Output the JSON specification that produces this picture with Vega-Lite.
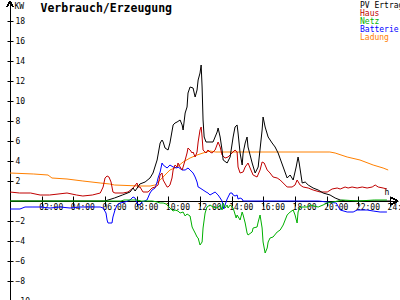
{
  "$schema": "https://vega.github.io/schema/vega-lite/v6.json",
  "width": 400,
  "height": 300,
  "autosize": "none",
  "padding": 0,
  "background": "white",
  "config": {
    "view": {"stroke": null},
    "font": "DejaVu Sans Mono",
    "axis": {"grid": false, "labelFont": "DejaVu Sans Mono", "labelFontSize": 8, "labelColor": "black", "tickColor": "black", "domainColor": "black", "titleFont": "DejaVu Sans Mono", "titleFontSize": 8, "titleColor": "black", "titleFontWeight": "normal", "labelOverlap": false, "labelFlush": false, "labelBound": false}
  },
  "data": {"values": [
    {"s":"Ladung","t":0,"v":2.8},{"s":"Ladung","t":1.5,"v":2.7},{"s":"Ladung","t":2.4,"v":2.6},{"s":"Ladung","t":2.65,"v":2.3},{"s":"Ladung","t":3.6,"v":2.2},{"s":"Ladung","t":4.6,"v":2.0},{"s":"Ladung","t":5.7,"v":1.8},{"s":"Ladung","t":6.3,"v":1.7},{"s":"Ladung","t":6.6,"v":1.6},{"s":"Ladung","t":8.2,"v":1.5},{"s":"Ladung","t":8.85,"v":1.5},{"s":"Ladung","t":9.16,"v":1.6},{"s":"Ladung","t":9.48,"v":2.1},{"s":"Ladung","t":9.79,"v":2.6},{"s":"Ladung","t":10.1,"v":3.1},{"s":"Ladung","t":10.55,"v":3.4},{"s":"Ladung","t":10.93,"v":3.9},{"s":"Ladung","t":11.37,"v":4.3},{"s":"Ladung","t":11.81,"v":4.6},{"s":"Ladung","t":12.19,"v":4.8},{"s":"Ladung","t":12.63,"v":5.0},{"s":"Ladung","t":13.0,"v":4.9},{"s":"Ladung","t":20.2,"v":4.9},{"s":"Ladung","t":20.53,"v":4.8},{"s":"Ladung","t":21.29,"v":4.4},{"s":"Ladung","t":22.1,"v":4.1},{"s":"Ladung","t":22.93,"v":3.6},{"s":"Ladung","t":23.56,"v":3.3},{"s":"Ladung","t":23.88,"v":3.1},

    {"s":"Batterie","t":0,"v":-0.8},{"s":"Batterie","t":0.63,"v":-0.8},{"s":"Batterie","t":0.95,"v":-0.6},{"s":"Batterie","t":1.45,"v":-0.6},{"s":"Batterie","t":1.9,"v":-0.6},{"s":"Batterie","t":2.53,"v":-0.7},{"s":"Batterie","t":3.16,"v":-0.6},{"s":"Batterie","t":3.79,"v":-0.7},{"s":"Batterie","t":4.42,"v":-0.6},{"s":"Batterie","t":5.05,"v":-0.6},{"s":"Batterie","t":5.69,"v":-0.6},{"s":"Batterie","t":5.88,"v":-0.7},{"s":"Batterie","t":6.06,"v":-1.2},{"s":"Batterie","t":6.13,"v":-1.9},{"s":"Batterie","t":6.19,"v":-2.2},{"s":"Batterie","t":6.44,"v":-2.2},{"s":"Batterie","t":6.5,"v":-1.6},{"s":"Batterie","t":6.63,"v":-0.9},{"s":"Batterie","t":6.76,"v":-0.4},{"s":"Batterie","t":6.95,"v":-0.2},{"s":"Batterie","t":7.26,"v":-0.1},{"s":"Batterie","t":7.58,"v":0.1},{"s":"Batterie","t":7.77,"v":0.4},{"s":"Batterie","t":7.9,"v":0.3},{"s":"Batterie","t":8.02,"v":-0.2},{"s":"Batterie","t":8.15,"v":-0.4},{"s":"Batterie","t":8.34,"v":-0.1},{"s":"Batterie","t":8.65,"v":0.1},{"s":"Batterie","t":8.84,"v":0.8},{"s":"Batterie","t":8.97,"v":1.1},{"s":"Batterie","t":9.16,"v":1.3},{"s":"Batterie","t":9.29,"v":1.9},{"s":"Batterie","t":9.35,"v":2.3},{"s":"Batterie","t":9.48,"v":2.9},{"s":"Batterie","t":9.6,"v":3.8},{"s":"Batterie","t":9.67,"v":3.6},{"s":"Batterie","t":9.92,"v":3.3},{"s":"Batterie","t":9.98,"v":3.4},{"s":"Batterie","t":10.1,"v":3.6},{"s":"Batterie","t":10.3,"v":3.4},{"s":"Batterie","t":10.55,"v":3.3},{"s":"Batterie","t":10.61,"v":3.4},{"s":"Batterie","t":10.87,"v":3.1},{"s":"Batterie","t":11.06,"v":3.1},{"s":"Batterie","t":11.24,"v":3.3},{"s":"Batterie","t":11.37,"v":3.1},{"s":"Batterie","t":11.56,"v":2.8},{"s":"Batterie","t":11.69,"v":2.4},{"s":"Batterie","t":11.81,"v":1.9},{"s":"Batterie","t":11.88,"v":1.4},{"s":"Batterie","t":12.0,"v":1.3},{"s":"Batterie","t":12.19,"v":1.1},{"s":"Batterie","t":12.38,"v":0.9},{"s":"Batterie","t":12.5,"v":0.8},{"s":"Batterie","t":12.63,"v":0.6},{"s":"Batterie","t":12.95,"v":0.9},{"s":"Batterie","t":13.14,"v":0.6},{"s":"Batterie","t":13.27,"v":0.3},{"s":"Batterie","t":13.39,"v":0.0},{"s":"Batterie","t":13.5,"v":-0.8},{"s":"Batterie","t":13.58,"v":-0.4},{"s":"Batterie","t":13.71,"v":0.2},{"s":"Batterie","t":13.9,"v":0.8},{"s":"Batterie","t":14.02,"v":0.8},{"s":"Batterie","t":14.09,"v":0.6},{"s":"Batterie","t":14.21,"v":0.5},{"s":"Batterie","t":14.34,"v":0.6},{"s":"Batterie","t":14.4,"v":0.2},{"s":"Batterie","t":14.53,"v":0.3},{"s":"Batterie","t":14.66,"v":0.2},{"s":"Batterie","t":14.72,"v":0.0},{"s":"Batterie","t":19.5,"v":0.0},{"s":"Batterie","t":20.0,"v":-0.1},{"s":"Batterie","t":20.6,"v":-0.2},{"s":"Batterie","t":20.85,"v":-0.9},{"s":"Batterie","t":21.29,"v":-1.1},{"s":"Batterie","t":21.67,"v":-1.1},{"s":"Batterie","t":21.92,"v":-0.9},{"s":"Batterie","t":22.1,"v":-0.9},{"s":"Batterie","t":22.55,"v":-0.9},{"s":"Batterie","t":22.93,"v":-1.0},{"s":"Batterie","t":23.37,"v":-1.1},{"s":"Batterie","t":23.8,"v":-1.1},

    {"s":"Haus","t":0,"v":0.9},{"s":"Haus","t":0.6,"v":0.8},{"s":"Haus","t":1.3,"v":0.8},{"s":"Haus","t":1.9,"v":0.6},{"s":"Haus","t":2.5,"v":0.6},{"s":"Haus","t":3.6,"v":0.8},{"s":"Haus","t":4.2,"v":0.6},{"s":"Haus","t":4.6,"v":0.5},{"s":"Haus","t":5.2,"v":0.6},{"s":"Haus","t":5.7,"v":0.8},{"s":"Haus","t":5.88,"v":1.4},{"s":"Haus","t":6.0,"v":2.3},{"s":"Haus","t":6.13,"v":2.5},{"s":"Haus","t":6.25,"v":2.4},{"s":"Haus","t":6.38,"v":1.9},{"s":"Haus","t":6.5,"v":0.9},{"s":"Haus","t":6.63,"v":0.8},{"s":"Haus","t":7.14,"v":0.8},{"s":"Haus","t":7.45,"v":0.9},{"s":"Haus","t":7.77,"v":1.3},{"s":"Haus","t":8.02,"v":1.8},{"s":"Haus","t":8.09,"v":1.4},{"s":"Haus","t":8.21,"v":1.4},{"s":"Haus","t":8.4,"v":0.9},{"s":"Haus","t":8.72,"v":0.9},{"s":"Haus","t":8.97,"v":1.3},{"s":"Haus","t":9.16,"v":1.4},{"s":"Haus","t":9.35,"v":1.6},{"s":"Haus","t":9.48,"v":2.6},{"s":"Haus","t":9.6,"v":2.8},{"s":"Haus","t":9.67,"v":2.1},{"s":"Haus","t":9.92,"v":1.4},{"s":"Haus","t":9.98,"v":1.4},{"s":"Haus","t":10.1,"v":1.6},{"s":"Haus","t":10.23,"v":2.3},{"s":"Haus","t":10.3,"v":3.1},{"s":"Haus","t":10.42,"v":3.6},{"s":"Haus","t":10.55,"v":3.4},{"s":"Haus","t":10.61,"v":3.8},{"s":"Haus","t":10.74,"v":3.4},{"s":"Haus","t":10.87,"v":3.1},{"s":"Haus","t":10.93,"v":3.4},{"s":"Haus","t":11.06,"v":4.1},{"s":"Haus","t":11.18,"v":4.8},{"s":"Haus","t":11.24,"v":5.3},{"s":"Haus","t":11.37,"v":5.1},{"s":"Haus","t":11.5,"v":4.8},{"s":"Haus","t":11.56,"v":4.9},{"s":"Haus","t":11.69,"v":4.4},{"s":"Haus","t":11.81,"v":4.9},{"s":"Haus","t":11.88,"v":5.9},{"s":"Haus","t":12.0,"v":7.1},{"s":"Haus","t":12.07,"v":7.4},{"s":"Haus","t":12.13,"v":6.4},{"s":"Haus","t":12.19,"v":5.1},{"s":"Haus","t":12.38,"v":4.8},{"s":"Haus","t":12.5,"v":5.1},{"s":"Haus","t":12.63,"v":4.9},{"s":"Haus","t":12.76,"v":4.8},{"s":"Haus","t":12.95,"v":5.1},{"s":"Haus","t":13.14,"v":5.9},{"s":"Haus","t":13.27,"v":5.4},{"s":"Haus","t":13.39,"v":4.6},{"s":"Haus","t":13.58,"v":4.3},{"s":"Haus","t":13.77,"v":4.4},{"s":"Haus","t":14.02,"v":4.8},{"s":"Haus","t":14.21,"v":5.1},{"s":"Haus","t":14.34,"v":4.9},{"s":"Haus","t":14.4,"v":3.4},{"s":"Haus","t":14.53,"v":2.8},{"s":"Haus","t":14.72,"v":2.9},{"s":"Haus","t":14.85,"v":3.4},{"s":"Haus","t":15.03,"v":3.8},{"s":"Haus","t":15.16,"v":3.3},{"s":"Haus","t":15.35,"v":2.6},{"s":"Haus","t":15.6,"v":2.4},{"s":"Haus","t":15.79,"v":3.1},{"s":"Haus","t":15.92,"v":3.9},{"s":"Haus","t":16.05,"v":3.8},{"s":"Haus","t":16.24,"v":3.1},{"s":"Haus","t":16.42,"v":2.8},{"s":"Haus","t":16.61,"v":2.4},{"s":"Haus","t":16.87,"v":2.3},{"s":"Haus","t":17.06,"v":2.1},{"s":"Haus","t":17.25,"v":1.8},{"s":"Haus","t":17.5,"v":1.4},{"s":"Haus","t":17.81,"v":1.4},{"s":"Haus","t":18.0,"v":1.6},{"s":"Haus","t":18.13,"v":2.1},{"s":"Haus","t":18.32,"v":1.6},{"s":"Haus","t":18.51,"v":1.4},{"s":"Haus","t":18.83,"v":1.3},{"s":"Haus","t":19.14,"v":1.1},{"s":"Haus","t":19.58,"v":0.9},{"s":"Haus","t":20.03,"v":0.9},{"s":"Haus","t":20.34,"v":1.2},{"s":"Haus","t":20.66,"v":1.3},{"s":"Haus","t":20.85,"v":1.2},{"s":"Haus","t":21.16,"v":1.4},{"s":"Haus","t":21.35,"v":1.3},{"s":"Haus","t":21.6,"v":1.4},{"s":"Haus","t":21.92,"v":1.3},{"s":"Haus","t":22.24,"v":1.4},{"s":"Haus","t":22.55,"v":1.3},{"s":"Haus","t":22.87,"v":1.4},{"s":"Haus","t":23.06,"v":1.6},{"s":"Haus","t":23.25,"v":1.4},{"s":"Haus","t":23.56,"v":1.3},{"s":"Haus","t":23.8,"v":1.2},

    {"s":"PV Ertrag","t":0,"v":0},{"s":"PV Ertrag","t":6.0,"v":0},{"s":"PV Ertrag","t":6.6,"v":0.3},{"s":"PV Ertrag","t":7.1,"v":0.6},{"s":"PV Ertrag","t":7.58,"v":0.9},{"s":"PV Ertrag","t":7.77,"v":1.3},{"s":"PV Ertrag","t":7.9,"v":1.0},{"s":"PV Ertrag","t":8.2,"v":1.7},{"s":"PV Ertrag","t":8.53,"v":1.9},{"s":"PV Ertrag","t":8.84,"v":2.3},{"s":"PV Ertrag","t":9.03,"v":2.8},{"s":"PV Ertrag","t":9.29,"v":4.1},{"s":"PV Ertrag","t":9.48,"v":5.8},{"s":"PV Ertrag","t":9.6,"v":6.1},{"s":"PV Ertrag","t":9.67,"v":5.9},{"s":"PV Ertrag","t":9.79,"v":5.3},{"s":"PV Ertrag","t":9.98,"v":5.1},{"s":"PV Ertrag","t":10.1,"v":5.8},{"s":"PV Ertrag","t":10.3,"v":7.6},{"s":"PV Ertrag","t":10.42,"v":7.8},{"s":"PV Ertrag","t":10.55,"v":7.9},{"s":"PV Ertrag","t":10.74,"v":8.1},{"s":"PV Ertrag","t":10.87,"v":7.6},{"s":"PV Ertrag","t":10.93,"v":7.1},{"s":"PV Ertrag","t":11.06,"v":8.8},{"s":"PV Ertrag","t":11.18,"v":9.4},{"s":"PV Ertrag","t":11.24,"v":10.8},{"s":"PV Ertrag","t":11.37,"v":11.4},{"s":"PV Ertrag","t":11.56,"v":11.3},{"s":"PV Ertrag","t":11.69,"v":10.4},{"s":"PV Ertrag","t":11.81,"v":11.1},{"s":"PV Ertrag","t":11.88,"v":12.1},{"s":"PV Ertrag","t":12.0,"v":12.8},{"s":"PV Ertrag","t":12.07,"v":13.6},{"s":"PV Ertrag","t":12.13,"v":11.4},{"s":"PV Ertrag","t":12.19,"v":8.1},{"s":"PV Ertrag","t":12.26,"v":6.4},{"s":"PV Ertrag","t":12.38,"v":5.9},{"s":"PV Ertrag","t":12.63,"v":5.9},{"s":"PV Ertrag","t":12.82,"v":5.9},{"s":"PV Ertrag","t":13.08,"v":6.9},{"s":"PV Ertrag","t":13.14,"v":7.3},{"s":"PV Ertrag","t":13.27,"v":6.4},{"s":"PV Ertrag","t":13.39,"v":5.1},{"s":"PV Ertrag","t":13.46,"v":4.1},{"s":"PV Ertrag","t":13.71,"v":3.8},{"s":"PV Ertrag","t":13.9,"v":4.4},{"s":"PV Ertrag","t":14.09,"v":6.4},{"s":"PV Ertrag","t":14.21,"v":7.4},{"s":"PV Ertrag","t":14.34,"v":7.6},{"s":"PV Ertrag","t":14.4,"v":6.8},{"s":"PV Ertrag","t":14.53,"v":4.8},{"s":"PV Ertrag","t":14.66,"v":3.6},{"s":"PV Ertrag","t":14.72,"v":4.8},{"s":"PV Ertrag","t":14.85,"v":5.8},{"s":"PV Ertrag","t":14.97,"v":6.4},{"s":"PV Ertrag","t":15.03,"v":5.4},{"s":"PV Ertrag","t":15.29,"v":3.8},{"s":"PV Ertrag","t":15.48,"v":2.8},{"s":"PV Ertrag","t":15.67,"v":3.4},{"s":"PV Ertrag","t":15.92,"v":7.1},{"s":"PV Ertrag","t":15.98,"v":8.4},{"s":"PV Ertrag","t":16.11,"v":7.4},{"s":"PV Ertrag","t":16.3,"v":6.4},{"s":"PV Ertrag","t":16.55,"v":5.8},{"s":"PV Ertrag","t":16.74,"v":5.4},{"s":"PV Ertrag","t":16.93,"v":4.8},{"s":"PV Ertrag","t":17.25,"v":3.4},{"s":"PV Ertrag","t":17.5,"v":2.3},{"s":"PV Ertrag","t":17.69,"v":2.6},{"s":"PV Ertrag","t":17.88,"v":2.1},{"s":"PV Ertrag","t":18.07,"v":3.4},{"s":"PV Ertrag","t":18.19,"v":4.4},{"s":"PV Ertrag","t":18.26,"v":3.8},{"s":"PV Ertrag","t":18.45,"v":1.8},{"s":"PV Ertrag","t":18.64,"v":1.9},{"s":"PV Ertrag","t":18.83,"v":1.6},{"s":"PV Ertrag","t":19.14,"v":1.3},{"s":"PV Ertrag","t":19.46,"v":1.1},{"s":"PV Ertrag","t":19.77,"v":0.8},{"s":"PV Ertrag","t":20.21,"v":0.6},{"s":"PV Ertrag","t":20.53,"v":0.3},{"s":"PV Ertrag","t":20.85,"v":0.1},{"s":"PV Ertrag","t":21.2,"v":0},{"s":"PV Ertrag","t":24,"v":0},

    {"s":"Netz","t":0,"v":0},{"s":"Netz","t":7.0,"v":0},{"s":"Netz","t":7.2,"v":0.1},{"s":"Netz","t":8.0,"v":0.1},{"s":"Netz","t":8.3,"v":0},{"s":"Netz","t":9.0,"v":0},{"s":"Netz","t":9.29,"v":-0.1},{"s":"Netz","t":9.48,"v":-0.2},{"s":"Netz","t":9.67,"v":-0.2},{"s":"Netz","t":9.86,"v":-0.3},{"s":"Netz","t":10.1,"v":-0.7},{"s":"Netz","t":10.3,"v":-1.0},{"s":"Netz","t":10.42,"v":-0.9},{"s":"Netz","t":10.61,"v":-1.0},{"s":"Netz","t":10.74,"v":-1.2},{"s":"Netz","t":10.93,"v":-1.1},{"s":"Netz","t":11.06,"v":-1.5},{"s":"Netz","t":11.18,"v":-1.3},{"s":"Netz","t":11.37,"v":-1.5},{"s":"Netz","t":11.5,"v":-2.6},{"s":"Netz","t":11.56,"v":-2.8},{"s":"Netz","t":11.69,"v":-3.2},{"s":"Netz","t":11.81,"v":-3.6},{"s":"Netz","t":11.88,"v":-3.7},{"s":"Netz","t":12.0,"v":-4.4},{"s":"Netz","t":12.13,"v":-4.1},{"s":"Netz","t":12.19,"v":-2.7},{"s":"Netz","t":12.32,"v":-1.2},{"s":"Netz","t":12.44,"v":-0.6},{"s":"Netz","t":12.63,"v":-0.4},{"s":"Netz","t":12.82,"v":-0.6},{"s":"Netz","t":13.08,"v":-0.7},{"s":"Netz","t":13.27,"v":-0.4},{"s":"Netz","t":13.39,"v":-0.9},{"s":"Netz","t":13.46,"v":-0.2},{"s":"Netz","t":13.58,"v":-0.7},{"s":"Netz","t":13.71,"v":-0.4},{"s":"Netz","t":13.77,"v":-0.7},{"s":"Netz","t":13.9,"v":-0.4},{"s":"Netz","t":14.09,"v":-0.7},{"s":"Netz","t":14.28,"v":-1.7},{"s":"Netz","t":14.34,"v":-1.4},{"s":"Netz","t":14.53,"v":-1.9},{"s":"Netz","t":14.66,"v":-1.1},{"s":"Netz","t":14.72,"v":-1.4},{"s":"Netz","t":14.85,"v":-2.2},{"s":"Netz","t":14.97,"v":-3.2},{"s":"Netz","t":15.03,"v":-3.4},{"s":"Netz","t":15.29,"v":-3.1},{"s":"Netz","t":15.35,"v":-2.7},{"s":"Netz","t":15.6,"v":-2.6},{"s":"Netz","t":15.67,"v":-2.1},{"s":"Netz","t":15.79,"v":-1.4},{"s":"Netz","t":15.92,"v":-2.7},{"s":"Netz","t":15.98,"v":-4.1},{"s":"Netz","t":16.11,"v":-5.2},{"s":"Netz","t":16.24,"v":-4.7},{"s":"Netz","t":16.3,"v":-4.1},{"s":"Netz","t":16.42,"v":-3.7},{"s":"Netz","t":16.61,"v":-3.6},{"s":"Netz","t":16.87,"v":-3.1},{"s":"Netz","t":17.06,"v":-2.9},{"s":"Netz","t":17.25,"v":-2.4},{"s":"Netz","t":17.5,"v":-1.4},{"s":"Netz","t":17.69,"v":-1.1},{"s":"Netz","t":17.88,"v":-0.9},{"s":"Netz","t":18.0,"v":-1.4},{"s":"Netz","t":18.13,"v":-2.2},{"s":"Netz","t":18.19,"v":-1.1},{"s":"Netz","t":18.32,"v":-0.6},{"s":"Netz","t":18.76,"v":-0.6},{"s":"Netz","t":18.95,"v":-0.4},{"s":"Netz","t":19.46,"v":-0.6},{"s":"Netz","t":19.77,"v":-0.4},{"s":"Netz","t":20.0,"v":-0.2},{"s":"Netz","t":20.4,"v":-0.1},{"s":"Netz","t":21.0,"v":0.1},{"s":"Netz","t":22.0,"v":0.0},{"s":"Netz","t":23.0,"v":0.1},{"s":"Netz","t":23.8,"v":0.1}
  ]},
  "resolve": {"axis": {"x": "independent", "y": "independent"}},
  "layer": [
    {
      "mark": {"type": "line", "strokeWidth": 1, "interpolate": "linear"},
      "encoding": {
        "x": {"field": "t", "type": "quantitative",
          "scale": {"domain": [0, 24.5], "range": [10, 398], "nice": false, "zero": false},
          "axis": {"orient": "bottom", "offset": -99, "values": [2,4,6,8,10,12,14,16,18,20,22,24],
            "labelExpr": "(datum.value < 10 ? '0' : '') + datum.value + ':00'",
            "labelAlign": "left", "labelOffset": -3, "labelPadding": -3, "labelBaseline": "top", "tickSize": 5,
            "title": "h", "titleX": 384, "titleY": -7, "titleBaseline": "alphabetic", "titleAlign": "left", "titleAngle": 0}},
        "y": {"field": "v", "type": "quantitative",
          "scale": {"domain": [-10, 20], "range": [301, 1], "nice": false, "zero": false},
          "axis": {"orient": "right", "offset": -390, "values": [-10,-8,-6,-4,-2,2,4,6,8,10,12,14,16,18],
            "labelAlign": "left", "labelPadding": 2, "tickSize": 3,
            "title": "KW", "titleAngle": 0, "titleX": 4, "titleY": 2, "titleBaseline": "top", "titleAlign": "left"}},
        "color": {"field": "s", "type": "nominal",
          "scale": {"domain": ["PV Ertrag", "Haus", "Netz", "Batterie", "Ladung"], "range": ["#000000", "#c00000", "#00b000", "#0000ff", "#ff8000"]},
          "legend": {"orient": "none", "legendX": 352, "legendY": 2, "title": null, "symbolSize": 0, "symbolStrokeWidth": 0, "symbolOpacity": 0, "labelOffset": 0, "labelFontSize": 8, "labelFont": "DejaVu Sans Mono", "rowPadding": 0, "padding": 0, "labelColor": {"expr": "scale('color', datum.value)"}}}
      }
    },
    {
      "mark": {"type": "point", "shape": "M-1,1L0,-1L1,1", "filled": false, "stroke": "black", "strokeWidth": 1, "size": 36, "opacity": 1},
      "encoding": {
        "x": {"datum": 0, "type": "quantitative",
          "scale": {"domain": [0, 24.5], "range": [10, 398], "nice": false, "zero": false},
          "axis": {"orient": "top", "offset": -201, "values": [2,4,6,8,10,12,14,16,18,20,22,24], "labels": false, "domain": false, "tickSize": 5,
            "title": "Verbrauch/Erzeugung", "titleX": 40, "titleY": -199, "titleBaseline": "top", "titleAlign": "left", "titleAngle": 0, "titleFontSize": 11.5, "titleFontWeight": "bold"}},
        "y": {"datum": 19.7, "type": "quantitative",
          "scale": {"domain": [-10, 20], "range": [301, 1], "nice": false, "zero": false},
          "axis": {"orient": "left", "offset": -10, "values": [-10,-8,-6,-4,-2,2,4,6,8,10,12,14,16,18], "labels": false, "domain": false, "tickSize": 3, "title": null}}
      }
    },
    {
      "mark": {"type": "point", "shape": "M-1,1L0,-1L1,1", "angle": 90, "filled": false, "stroke": "black", "strokeWidth": 1, "size": 36, "opacity": 1},
      "encoding": {
        "x": {"datum": 24.31, "type": "quantitative", "scale": {"domain": [0, 24.5], "range": [10, 398], "nice": false, "zero": false}, "axis": null},
        "y": {"datum": 0, "type": "quantitative", "scale": {"domain": [-10, 20], "range": [301, 1], "nice": false, "zero": false}, "axis": null}
      }
    }
  ]
}
